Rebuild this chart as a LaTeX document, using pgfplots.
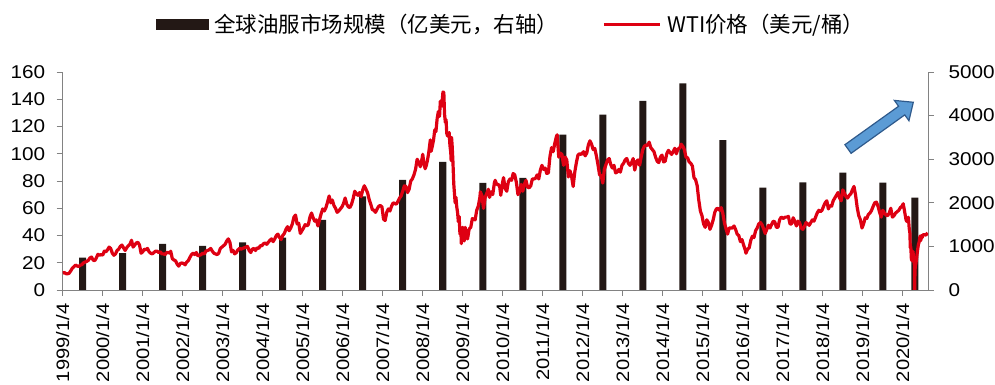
\documentclass[border=0pt]{standalone}
\usepackage{fontspec}
\setmainfont{Liberation Sans}[FakeStretch=1.12]
\newfontfamily\cjk{Noto Sans CJK SC}
\usepackage{pgfplots}
\usepackage{pgfplotstable}
\pgfplotsset{compat=1.18}
\definecolor{barcol}{RGB}{35,24,21}
\definecolor{wti}{RGB}{222,0,18}
\definecolor{axgray}{RGB}{130,130,130}
\definecolor{arrfill}{RGB}{91,155,213}
\definecolor{arrdraw}{RGB}{47,90,140}

\pgfplotstableread{
x y
1999.5 743
2000.5 843
2001.5 1057
2002.5 1011
2003.5 1095
2004.5 1200
2005.5 1608
2006.5 2145
2007.5 2527
2008.5 2941
2009.5 2458
2010.5 2574
2011.5 3562
2012.5 4021
2013.5 4335
2014.5 4740
2015.5 3436
2016.5 2347
2017.5 2470
2018.5 2692
2019.5 2462
2020.3 2117
}\bardata

\begin{document}
\begin{tikzpicture}
\path[use as bounding box] (-62.7pt,-95pt) rectangle (932.3pt,290pt);
\pgfplotsset{common/.style={
  width=865.3pt, height=218pt, scale only axis,
  xmin=1999, xmax=2020.63,
  tick align=outside, major tick length=6pt,
  tick style={axgray, line width=0.8pt},
  axis line style={axgray, line width=0.8pt, -},
  ticklabel style={font=\fontsize{18.5}{20}\selectfont, text=black},
  /pgf/number format/assume math mode=true,
  /pgf/number format/1000 sep={},
  minor tick num=0}}
\begin{axis}[common, axis x line*=bottom, axis y line*=right,
  ymin=0, ymax=5000, ytick={0,1000,2000,3000,4000,5000},
  yticklabel style={xshift=11pt},
  ybar, bar width=7pt,
  xtick={1999,2000,2001,2002,2003,2004,2005,2006,2007,2008,2009,2010,2011,2012,2013,2014,2015,2016,2017,2018,2019,2020},
  xticklabels={1999/1/4,2000/1/4,2001/1/4,2002/1/4,2003/1/4,2004/1/4,2005/1/4,2006/1/4,2007/1/4,2008/1/4,2009/1/4,2010/1/4,2011/1/4,2012/1/4,2013/1/4,2014/1/4,2015/1/4,2016/1/4,2017/1/4,2018/1/4,2019/1/4,2020/1/4},
  xticklabel style={font=\fontsize{18}{20}\selectfont, yshift=-4pt, rotate=90, anchor=east}]
\addplot[fill=barcol, draw=none] table {\bardata};
\end{axis}
\begin{axis}[common, axis x line=none, axis y line*=left,
  ymin=0, ymax=160, ytick={0,20,40,60,80,100,120,140,160},
  yticklabel style={xshift=-8pt},
  legend columns=2,
  legend style={at={(0.1078,1.22)}, anchor=west, draw=none, fill=none,
    inner sep=0pt, outer sep=0pt, row sep=0pt,
    nodes={inner sep=0pt},
    /tikz/every odd column/.append style={column sep=6pt},
    /tikz/every even column/.append style={column sep=44pt},
    font={\fontsize{21.5}{24}\cjk}}]
\addlegendimage{legend image code/.code={\fill[barcol] (0pt,-5pt) rectangle (52pt,5pt);}}
\addlegendentry{全球油服市场规模（亿美元，右轴）}
\addplot[wti, line width=3.2pt, line join=round,
  legend image code/.code={\draw[wti, line width=3pt] (0pt,0pt) -- (56pt,0pt);}] coordinates {
(1999.00,12.4)(1999.04,12.9)(1999.08,12.0)(1999.12,11.9)(1999.16,12.3)(1999.20,14.0)(1999.24,16.0)(1999.28,17.0)(1999.32,18.3)(1999.36,17.6)(1999.40,17.3)(1999.44,18.2)(1999.48,18.6)(1999.52,19.9)(1999.56,20.5)(1999.60,21.0)(1999.64,21.8)(1999.68,23.5)(1999.72,24.2)(1999.76,22.0)(1999.80,21.5)(1999.84,23.5)(1999.88,26.2)(1999.92,25.5)(1999.96,26.0)
(2000.00,25.6)(2000.04,28.5)(2000.08,28.0)(2000.12,29.5)(2000.16,31.5)(2000.20,30.5)(2000.24,27.0)(2000.28,25.5)(2000.32,26.5)(2000.36,29.0)(2000.40,30.0)(2000.44,32.0)(2000.48,33.0)(2000.52,31.0)(2000.56,29.0)(2000.60,31.0)(2000.64,32.5)(2000.68,33.5)(2000.72,36.5)(2000.76,31.5)(2000.80,33.0)(2000.84,34.5)(2000.88,35.0)(2000.92,33.0)(2000.96,27.0)
(2001.00,28.0)(2001.04,30.0)(2001.08,29.5)(2001.12,30.5)(2001.16,28.0)(2001.20,27.0)(2001.24,26.5)(2001.28,27.5)(2001.32,28.5)(2001.36,28.5)(2001.40,27.5)(2001.44,28.0)(2001.48,26.5)(2001.52,26.5)(2001.56,26.0)(2001.60,27.5)(2001.64,27.5)(2001.68,27.0)(2001.70,28.5)(2001.74,23.0)(2001.78,22.0)(2001.82,21.5)(2001.86,19.0)(2001.90,17.5)(2001.94,19.5)(2001.98,19.8)
(2002.02,19.5)(2002.06,18.5)(2002.10,20.5)(2002.14,21.5)(2002.18,24.0)(2002.22,26.0)(2002.26,27.0)(2002.30,26.0)(2002.34,27.5)(2002.38,25.0)(2002.42,25.5)(2002.46,26.0)(2002.50,27.0)(2002.54,26.5)(2002.58,28.5)(2002.62,29.0)(2002.66,29.5)(2002.70,30.5)(2002.74,28.5)(2002.78,27.0)(2002.82,26.5)(2002.86,26.0)(2002.90,27.0)(2002.94,30.5)(2002.98,31.5)
(2003.02,32.5)(2003.06,33.5)(2003.10,36.0)(2003.14,37.5)(2003.18,35.0)(2003.22,28.0)(2003.26,29.0)(2003.30,26.5)(2003.34,27.5)(2003.38,29.5)(2003.42,30.5)(2003.46,30.0)(2003.50,30.5)(2003.54,31.0)(2003.58,31.5)(2003.62,32.0)(2003.66,29.0)(2003.70,27.5)(2003.74,30.0)(2003.78,30.5)(2003.82,29.0)(2003.86,31.0)(2003.90,30.5)(2003.94,32.5)(2003.98,32.5)
(2004.02,34.0)(2004.06,34.5)(2004.10,33.5)(2004.14,35.0)(2004.18,36.5)(2004.22,37.5)(2004.26,35.5)(2004.30,37.5)(2004.34,40.0)(2004.38,41.0)(2004.42,38.5)(2004.46,37.0)(2004.50,40.0)(2004.54,41.5)(2004.58,44.5)(2004.62,46.5)(2004.66,43.5)(2004.70,45.5)(2004.74,48.5)(2004.78,53.5)(2004.82,55.0)(2004.86,48.5)(2004.90,49.0)(2004.94,41.5)(2004.98,43.5)
(2005.02,45.5)(2005.06,48.0)(2005.10,47.0)(2005.14,48.0)(2005.18,53.5)(2005.22,56.5)(2005.26,53.0)(2005.30,50.5)(2005.34,51.5)(2005.38,47.0)(2005.42,51.5)(2005.46,56.0)(2005.50,59.5)(2005.54,58.0)(2005.58,60.5)(2005.62,64.5)(2005.66,69.0)(2005.70,64.0)(2005.74,66.0)(2005.78,62.0)(2005.82,60.0)(2005.86,57.0)(2005.90,58.0)(2005.94,59.5)(2005.98,61.0)
(2006.02,63.5)(2006.06,67.5)(2006.10,63.0)(2006.14,61.0)(2006.18,60.5)(2006.22,63.0)(2006.26,67.0)(2006.30,72.5)(2006.34,70.5)(2006.38,69.5)(2006.42,71.5)(2006.46,68.5)(2006.50,73.5)(2006.54,76.5)(2006.58,74.0)(2006.62,71.5)(2006.66,66.5)(2006.70,63.0)(2006.74,59.0)(2006.78,58.5)(2006.82,57.0)(2006.86,59.5)(2006.90,61.5)(2006.94,62.0)(2006.98,61.0)
(2007.02,52.0)(2007.06,51.0)(2007.10,57.0)(2007.14,59.5)(2007.18,58.0)(2007.22,61.5)(2007.26,64.0)(2007.30,63.5)(2007.34,63.0)(2007.38,65.0)(2007.42,67.5)(2007.46,69.0)(2007.50,72.5)(2007.54,76.5)(2007.58,76.0)(2007.62,71.5)(2007.66,74.0)(2007.70,80.0)(2007.74,81.5)(2007.78,84.5)(2007.82,88.5)(2007.86,96.0)(2007.90,93.5)(2007.94,90.5)(2007.98,96.0)
(2008.00,99.6)(2008.03,92.7)(2008.06,89.0)(2008.09,91.5)(2008.12,95.5)(2008.15,100.9)(2008.19,110.2)(2008.21,101.8)(2008.24,105.6)(2008.27,110.1)(2008.30,117.5)(2008.33,116.3)(2008.36,125.8)(2008.39,131.0)(2008.42,127.4)(2008.44,138.5)(2008.46,134.9)(2008.48,135.4)(2008.49,140.2)(2008.505,145.3)(2008.527,145.0)(2008.545,129)(2008.565,123)(2008.583,125)(2008.60,115)(2008.62,113)(2008.64,115)(2008.66,115.5)(2008.68,106)(2008.70,101)(2008.71,95)(2008.72,112)(2008.735,106)(2008.755,94)(2008.775,78)(2008.79,72)(2008.81,64)(2008.83,68)(2008.85,61)(2008.87,57)(2008.89,50)(2008.91,54)(2008.93,41)(2008.95,46)(2008.965,34)(2008.98,38)
(2009.00,46)(2009.02,41)(2009.04,36)(2009.06,46)(2009.08,41.7)(2009.12,37.5)(2009.16,44.8)(2009.20,46)(2009.24,52.4)(2009.27,52)(2009.31,51.5)(2009.35,58.6)(2009.39,61.7)(2009.43,68.4)(2009.44,72)(2009.48,69.2)(2009.52,59.9)(2009.56,68)(2009.60,70.9)(2009.64,73.9)(2009.67,68)(2009.71,72)(2009.75,70)(2009.79,78.5)(2009.81,80.5)(2009.85,77.4)(2009.89,77.5)(2009.925,75.5)(2009.95,69.5)(2009.998,79.4)
(2010.02,82.5)(2010.06,74.5)(2010.10,72.5)(2010.14,79.5)(2010.18,81.5)(2010.22,80.5)(2010.26,85.5)(2010.30,84.5)(2010.34,79.0)(2010.38,70.0)(2010.42,72.0)(2010.46,77.5)(2010.50,72.5)(2010.54,77.5)(2010.58,80.5)(2010.62,75.5)(2010.66,75.0)(2010.70,76.5)(2010.74,81.5)(2010.78,81.5)(2010.82,82.0)(2010.86,84.5)(2010.90,81.5)(2010.94,88.0)(2010.98,91.5)
(2011.02,88.5)(2011.06,89.5)(2011.10,85.5)(2011.14,86.0)(2011.18,98.0)(2011.22,104.5)(2011.26,101.5)(2011.30,107.5)(2011.34,112.5)(2011.36,113.9)(2011.40,97.5)(2011.44,100.5)(2011.48,99.5)(2011.52,91.5)(2011.56,97.5)(2011.60,95.5)(2011.64,83.0)(2011.68,87.5)(2011.72,83.5)(2011.76,76.0)(2011.80,86.5)(2011.84,93.5)(2011.88,99.0)(2011.92,100.0)(2011.96,99.5)
(2012.02,101.5)(2012.06,98.5)(2012.10,100.5)(2012.14,106.5)(2012.18,109.5)(2012.22,107.0)(2012.26,103.0)(2012.30,104.0)(2012.34,98.5)(2012.38,92.0)(2012.42,84.5)(2012.46,84.0)(2012.50,78.5)(2012.54,88.5)(2012.58,92.0)(2012.62,95.5)(2012.66,96.5)(2012.70,92.0)(2012.74,89.5)(2012.78,91.5)(2012.82,86.0)(2012.86,86.5)(2012.90,88.5)(2012.94,86.5)(2012.98,91.5)
(2013.02,93.0)(2013.06,95.5)(2013.10,96.5)(2013.14,93.0)(2013.18,91.5)(2013.22,93.5)(2013.26,96.5)(2013.30,88.0)(2013.34,94.0)(2013.38,95.5)(2013.42,91.5)(2013.46,97.5)(2013.50,103.0)(2013.54,105.5)(2013.58,106.5)(2013.62,106.0)(2013.66,108.5)(2013.70,104.5)(2013.74,103.0)(2013.78,101.5)(2013.82,97.5)(2013.86,94.5)(2013.90,93.5)(2013.94,97.5)(2013.98,99.0)
(2014.02,94.0)(2014.06,94.5)(2014.10,100.0)(2014.14,102.5)(2014.18,101.0)(2014.22,99.5)(2014.26,101.5)(2014.30,104.0)(2014.34,100.0)(2014.38,103.5)(2014.42,104.0)(2014.46,107.0)(2014.50,105.5)(2014.54,103.0)(2014.58,97.5)(2014.62,97.0)(2014.66,94.0)(2014.70,93.0)(2014.74,91.0)(2014.78,82.5)(2014.82,81.0)(2014.86,76.5)(2014.90,66.0)(2014.94,58.0)(2014.98,54.5)
(2015.02,48.5)(2015.06,46.0)(2015.10,51.5)(2015.14,49.5)(2015.18,44.5)(2015.22,47.5)(2015.26,51.5)(2015.30,57.0)(2015.34,59.5)(2015.38,60.0)(2015.42,58.5)(2015.46,60.5)(2015.50,56.5)(2015.54,49.5)(2015.58,45.0)(2015.62,41.0)(2015.66,45.5)(2015.70,45.5)(2015.74,45.5)(2015.78,47.0)(2015.82,44.5)(2015.86,41.0)(2015.90,40.0)(2015.94,35.5)(2015.98,37.0)
(2016.02,33.0)(2016.06,29.5)(2016.08,27.0)(2016.12,30.0)(2016.16,31.0)(2016.20,36.5)(2016.24,39.5)(2016.28,38.5)(2016.32,43.5)(2016.36,45.5)(2016.40,48.5)(2016.44,49.5)(2016.48,48.0)(2016.52,45.0)(2016.56,41.5)(2016.60,44.5)(2016.64,47.5)(2016.68,45.5)(2016.72,48.0)(2016.76,50.5)(2016.80,50.0)(2016.84,46.0)(2016.88,46.0)(2016.92,51.5)(2016.96,53.5)
(2017.02,52.5)(2017.06,53.5)(2017.10,53.5)(2017.14,54.0)(2017.18,48.5)(2017.22,48.5)(2017.26,53.0)(2017.30,50.5)(2017.34,47.0)(2017.38,50.5)(2017.42,49.5)(2017.46,45.5)(2017.50,44.5)(2017.54,46.5)(2017.58,49.5)(2017.62,48.5)(2017.66,47.5)(2017.70,49.5)(2017.74,51.5)(2017.78,50.5)(2017.82,53.5)(2017.86,56.5)(2017.90,58.5)(2017.94,57.5)(2017.98,58.5)
(2018.02,61.5)(2018.06,64.0)(2018.10,65.5)(2018.14,59.5)(2018.18,62.0)(2018.22,61.5)(2018.26,65.5)(2018.30,67.5)(2018.34,69.5)(2018.38,71.5)(2018.42,67.5)(2018.46,65.5)(2018.50,73.5)(2018.54,71.0)(2018.58,68.5)(2018.62,67.5)(2018.66,69.5)(2018.70,70.5)(2018.74,73.5)(2018.78,76.0)(2018.82,69.5)(2018.86,60.5)(2018.90,54.5)(2018.94,51.5)(2018.98,45.5)
(2019.02,48.5)(2019.06,53.0)(2019.10,52.5)(2019.14,55.5)(2019.18,56.5)(2019.22,58.5)(2019.26,61.5)(2019.30,64.0)(2019.34,64.5)(2019.38,61.5)(2019.42,57.0)(2019.46,53.5)(2019.50,58.5)(2019.54,56.5)(2019.58,55.0)(2019.62,54.5)(2019.66,56.5)(2019.70,60.0)(2019.74,53.5)(2019.78,54.5)(2019.82,56.5)(2019.86,57.5)(2019.90,58.5)(2019.94,60.5)(2019.98,61.5)
(2020.01,63.3)(2020.04,58.5)(2020.08,51.6)(2020.10,50.3)(2020.14,53.4)(2020.16,45.3)(2020.18,41.3)(2020.185,31.1)(2020.20,31.7)(2020.215,22.4)(2020.235,21.5)(2020.255,28.3)(2020.27,22.8)(2020.29,18.3)(2020.30,-37.6)(2020.302,10)(2020.31,17)(2020.33,19.8)(2020.35,24.7)(2020.37,29.4)(2020.39,33.3)(2020.41,35.5)(2020.43,39.6)(2020.45,36.3)(2020.465,39.8)(2020.485,38.5)(2020.505,40.6)(2020.54,40.6)(2020.58,40.3)(2020.60,41.2)(2020.62,42.0)
};
\addlegendentry{WTI价格（美元/桶）}
\end{axis}
\begin{scope}[shift={(785.3pt,141pt)}, rotate=35.6]
\filldraw[fill=arrfill, draw=arrdraw, line width=1.2pt, line join=miter]
  (0pt,-5.3pt) -- (66pt,-5.3pt) -- (66pt,-12.5pt) -- (80.3pt,0pt) -- (66pt,12.5pt) -- (66pt,5.3pt) -- (0pt,5.3pt) -- cycle;
\end{scope}
\end{tikzpicture}
\end{document}
